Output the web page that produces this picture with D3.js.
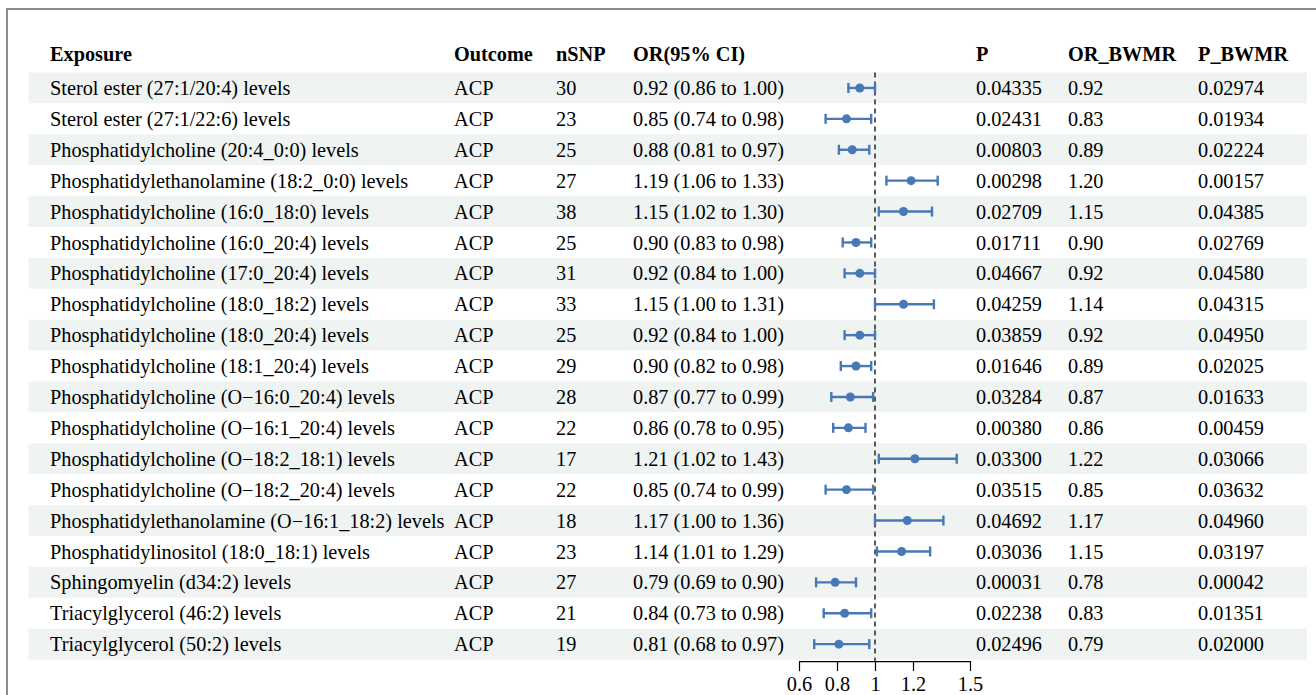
<!DOCTYPE html>
<html>
<head>
<meta charset="utf-8">
<script src="https://cdn.jsdelivr.net/npm/d3@7"></script>
<style>
  body { margin: 0; background: #fff; }
  svg { display: block; font-family: "Liberation Serif", "Times New Roman", serif; }
</style>
</head>
<body>
<div id="wrapper"></div>
<script>
// data
const exposures = [
    "Sterol ester (27:1/20:4) levels",
    "Sterol ester (27:1/22:6) levels",
    "Phosphatidylcholine (20:4_0:0) levels",
    "Phosphatidylethanolamine (18:2_0:0) levels",
    "Phosphatidylcholine (16:0_18:0) levels",
    "Phosphatidylcholine (16:0_20:4) levels",
    "Phosphatidylcholine (17:0_20:4) levels",
    "Phosphatidylcholine (18:0_18:2) levels",
    "Phosphatidylcholine (18:0_20:4) levels",
    "Phosphatidylcholine (18:1_20:4) levels",
    "Phosphatidylcholine (O\u221216:0_20:4) levels",
    "Phosphatidylcholine (O\u221216:1_20:4) levels",
    "Phosphatidylcholine (O\u221218:2_18:1) levels",
    "Phosphatidylcholine (O\u221218:2_20:4) levels",
    "Phosphatidylethanolamine (O\u221216:1_18:2) levels",
    "Phosphatidylinositol (18:0_18:1) levels",
    "Sphingomyelin (d34:2) levels",
    "Triacylglycerol (46:2) levels",
    "Triacylglycerol (50:2) levels"
];
const outcome = "ACP";
const nSNP = [30, 23, 25, 27, 38, 25, 31, 33, 25, 29, 28, 22, 17, 22, 18, 23, 27, 21, 19];
const orValues = [0.92, 0.85, 0.88, 1.19, 1.15, 0.90, 0.92, 1.15, 0.92, 0.90, 0.87, 0.86, 1.21, 0.85, 1.17, 1.14, 0.79, 0.84, 0.81];
const lowerCI = [0.86, 0.74, 0.81, 1.06, 1.02, 0.83, 0.84, 1.00, 0.84, 0.82, 0.77, 0.78, 1.02, 0.74, 1.00, 1.01, 0.69, 0.73, 0.68];
const upperCI = [1.00, 0.98, 0.97, 1.33, 1.30, 0.98, 1.00, 1.31, 1.00, 0.98, 0.99, 0.95, 1.43, 0.99, 1.36, 1.29, 0.90, 0.98, 0.97];
const pValues = ["0.04335", "0.02431", "0.00803", "0.00298", "0.02709", "0.01711", "0.04667", "0.04259", "0.03859", "0.01646",
                 "0.03284", "0.00380", "0.03300", "0.03515", "0.04692", "0.03036", "0.00031", "0.02238", "0.02496"];
const orBWMR = ["0.92", "0.83", "0.89", "1.20", "1.15", "0.90", "0.92", "1.14", "0.92", "0.89",
                "0.87", "0.86", "1.22", "0.85", "1.17", "1.15", "0.78", "0.83", "0.79"];
const pBWMR = ["0.02974", "0.01934", "0.02224", "0.00157", "0.04385", "0.02769", "0.04580", "0.04315", "0.04950", "0.02025",
               "0.01633", "0.00459", "0.03066", "0.03632", "0.04960", "0.03197", "0.00042", "0.01351", "0.02000"];
const xTicks = [0.6, 0.8, 1, 1.2, 1.5];

const data = exposures.map((e, i) => ({
    exposure: e,
    nsnp: nSNP[i],
    or: orValues[i],
    lo: lowerCI[i],
    hi: upperCI[i],
    p: pValues[i],
    orB: orBWMR[i],
    pB: pBWMR[i]
}));

const width = 1316, height = 695;
const rowTop = 72.5, rowH = 30.9;
const fontSize = 20.3;
const ciColor = "#4878b6";

const svg = d3.select("#wrapper").append("svg")
    .attr("width", width)
    .attr("height", height);

// frame
svg.append("path")
    .attr("d", `M7,${height} L7,9 L${width},9`)
    .attr("fill", "none")
    .attr("stroke", "#8c8c8c")
    .attr("stroke-width", 2);

const yScale = d3.scaleBand()
    .domain(d3.range(data.length))
    .range([rowTop, rowTop + rowH * data.length]);

const xScale = d3.scaleLinear()
    .domain([0.6, 1.5])
    .range([799, 970]);

// row stripes
svg.selectAll("rect.band")
    .data(data)
    .join("rect")
    .attr("class", "band")
    .attr("x", 28.5)
    .attr("y", (d, i) => yScale(i))
    .attr("width", 1307 - 28.5)
    .attr("height", yScale.bandwidth())
    .attr("fill", (d, i) => i % 2 === 0 ? "#eff3f2" : "#ffffff");

// columns
const columns = [
    {title: "Exposure", x: 50, val: d => d.exposure},
    {title: "Outcome", x: 454, val: d => outcome},
    {title: "nSNP", x: 556, val: d => d.nsnp},
    {title: "OR(95% CI)", x: 633, val: d => `${d.or.toFixed(2)} (${d.lo.toFixed(2)} to ${d.hi.toFixed(2)})`},
    {title: "P", x: 976, val: d => d.p},
    {title: "OR_BWMR", x: 1068, val: d => d.orB},
    {title: "P_BWMR", x: 1198, val: d => d.pB}
];

const headerY = 54;
columns.forEach(col => {
    svg.append("text")
        .attr("x", col.x)
        .attr("y", headerY)
        .attr("dy", "0.35em")
        .attr("font-size", fontSize)
        .attr("font-weight", "bold")
        .attr("fill", "#000")
        .text(col.title);

    svg.selectAll(null)
        .data(data)
        .join("text")
        .attr("x", col.x)
        .attr("y", (d, i) => yScale(i) + yScale.bandwidth() / 2)
        .attr("dy", "0.35em")
        .attr("font-size", fontSize)
        .attr("fill", "#000")
        .text(col.val);
});

// reference line at OR = 1
const axisY = rowTop + rowH * data.length + 1.5;
svg.append("line")
    .attr("x1", xScale(1))
    .attr("x2", xScale(1))
    .attr("y1", rowTop)
    .attr("y2", axisY)
    .attr("stroke", "#333")
    .attr("stroke-width", 1.6)
    .attr("stroke-dasharray", "5,4");

// CIs
const ci = svg.append("g").selectAll("g")
    .data(data)
    .join("g")
    .attr("transform", (d, i) => `translate(0,${yScale(i) + yScale.bandwidth() / 2})`);

ci.append("line")
    .attr("x1", d => xScale(d.lo))
    .attr("x2", d => xScale(d.hi))
    .attr("stroke", ciColor)
    .attr("stroke-width", 2.4);

ci.append("line")
    .attr("x1", d => xScale(d.lo))
    .attr("x2", d => xScale(d.lo))
    .attr("y1", -5)
    .attr("y2", 5)
    .attr("stroke", ciColor)
    .attr("stroke-width", 2.4);

ci.append("line")
    .attr("x1", d => xScale(d.hi))
    .attr("x2", d => xScale(d.hi))
    .attr("y1", -5)
    .attr("y2", 5)
    .attr("stroke", ciColor)
    .attr("stroke-width", 2.4);

ci.append("circle")
    .attr("cx", d => xScale(d.or))
    .attr("r", 4.5)
    .attr("fill", ciColor);

// x axis
const axis = svg.append("g")
    .attr("transform", `translate(0,${axisY})`)
    .call(d3.axisBottom(xScale)
        .tickValues(xTicks)
        .tickFormat(d3.format("~g"))
        .tickSize(10)
        .tickPadding(5)
        .tickSizeOuter(0));

axis.select(".domain").attr("stroke", "#000").attr("stroke-width", 1.2);
axis.selectAll(".tick line").attr("stroke", "#000").attr("stroke-width", 1.2);
axis.selectAll(".tick text")
    .attr("font-family", "Liberation Serif, serif")
    .attr("font-size", fontSize)
    .attr("fill", "#000");
</script>
</body>
</html>
